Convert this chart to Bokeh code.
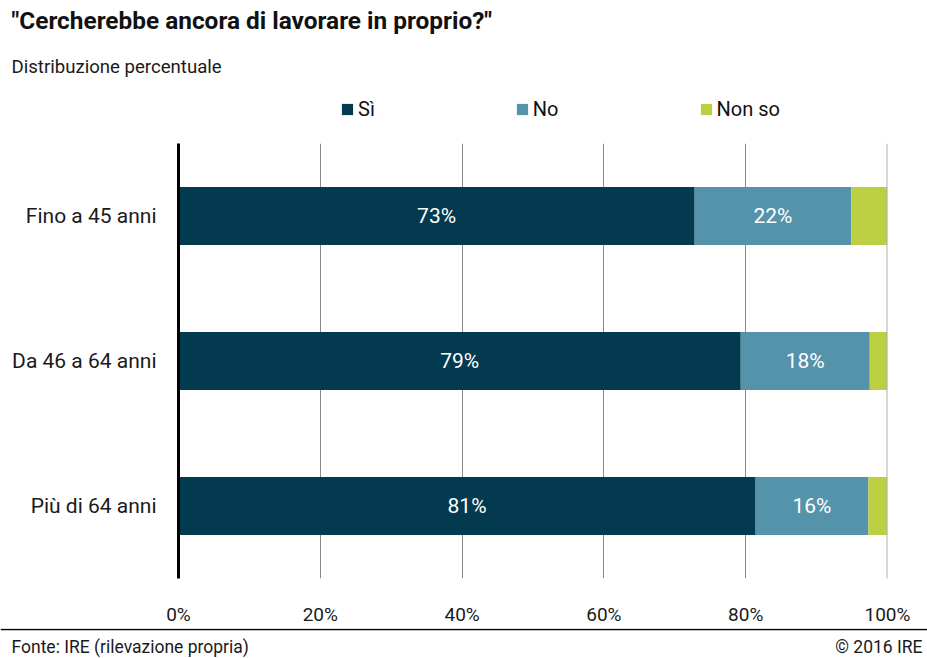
from bokeh.plotting import figure
from bokeh.layouts import column
from bokeh.models import (ColumnDataSource, FactorRange, Range1d, FixedTicker, Label,
                          Legend, LegendItem, Span, CustomJSTickFormatter)
from bokeh.core.properties import value
from bokeh.embed import file_html
from bokeh.resources import INLINE

# ---- data ----
categories = ["Fino a 45 anni", "Da 46 a 64 anni", "Più di 64 anni"]
series_names = ["Sì", "No", "Non so"]
si = [72.8, 79.3, 81.4]
no = [22.1, 18.2, 15.9]
nonso = [5.1, 2.5, 2.7]
x_ticks = [0, 20, 40, 60, 80, 100]
colors = ["#033a4f", "#5593ab", "#bccf43"]

title_text = '"Cercherebbe ancora di lavorare in proprio?"'
subtitle_text = "Distribuzione percentuale"
source_text = "Fonte: IRE (rilevazione propria)"
copyright_text = "© 2016 IRE"

FONT = "Roboto"
W = 927
HEAD_H, MAIN_H, FOOT_H = 143, 485, 30
TXT = "#1a1a1a"


def blank(h):
    f = figure(width=W, height=h, output_backend="svg", toolbar_location=None,
               x_range=Range1d(0, W), y_range=Range1d(h, 0),
               x_axis_type=None, y_axis_type=None,
               min_border=0, min_border_left=0, min_border_right=0,
               min_border_top=0, min_border_bottom=0, frame_align=False)
    f.outline_line_color = None
    f.grid.visible = False
    f.background_fill_color = "white"
    f.border_fill_color = "white"
    return f


# ---- header: title, subtitle, legend ----
head = blank(HEAD_H)
head.add_layout(Label(x=11, y=20, text=title_text, text_font=FONT, text_font_size="24.4px",
                      text_font_style="bold", text_color="#111111", text_baseline="middle"))
head.add_layout(Label(x=11, y=66, text=subtitle_text, text_font=FONT, text_font_size="18.6px",
                      text_color=TXT, text_baseline="middle"))
# zero-size legend proxies (one per series, never visible)
proxies = [head.hbar(y=[0], left=[0], right=[0], height=0, color=c, line_color=None)
           for c in colors]
legend = Legend(items=[LegendItem(label=n, renderers=[r]) for n, r in zip(series_names, proxies)],
                orientation="horizontal", location=(340, 22),
                glyph_width=14, glyph_height=14, label_standoff=4, label_width=0,
                label_height=14, spacing=140, padding=0, margin=0,
                border_line_color=None, background_fill_alpha=0,
                label_text_font=FONT, label_text_font_size="20px",
                label_text_color="#111111")
head.add_layout(legend)

# ---- main chart ----
src = ColumnDataSource(dict(cat=categories, si=si, no=no, nonso=nonso))
p = figure(width=W, height=MAIN_H, output_backend="svg", toolbar_location=None,
           y_range=FactorRange(factors=list(reversed(categories))),
           x_range=Range1d(0, 100),
           min_border_left=178, min_border_right=40,
           min_border_top=0, min_border_bottom=45, frame_align=False)
p.outline_line_color = None
p.background_fill_color = "white"
p.border_fill_color = "white"

rs = p.hbar_stack(["si", "no", "nonso"], y="cat", height=0.4, color=colors,
                  line_color=None, source=src)

lab_x, lab_y, lab_t = [], [], []
for c, a, b in zip(categories, si, no):
    lab_x += [a / 2, a + b / 2]
    lab_y += [c, c]
    lab_t += [f"{round(a)}%", f"{round(b)}%"]
lsrc = ColumnDataSource(dict(x=lab_x, y=lab_y, t=lab_t))
p.text(x="x", y="y", text="t", source=lsrc, text_color="white",
       text_font=value(FONT), text_font_size="21px",
       text_align="center", text_baseline="middle")

p.xaxis.ticker = FixedTicker(ticks=x_ticks)
p.xaxis.formatter = CustomJSTickFormatter(code="return tick + '%';")
p.xaxis.axis_line_color = None
p.xaxis.major_tick_line_color = None
p.xaxis.minor_tick_line_color = None
p.xaxis.major_label_standoff = 18
p.xaxis.major_label_text_font = FONT
p.xaxis.major_label_text_font_size = "19px"
p.xaxis.major_label_text_color = TXT

p.yaxis.axis_line_color = "black"
p.yaxis.axis_line_width = 3
p.yaxis.major_tick_line_color = None
p.yaxis.minor_tick_line_color = None
p.yaxis.major_label_standoff = 16
p.yaxis.major_label_text_font = FONT
p.yaxis.major_label_text_font_size = "21px"
p.yaxis.major_label_text_color = TXT

p.ygrid.grid_line_color = None
p.xgrid.ticker = FixedTicker(ticks=x_ticks[1:-1])
p.xgrid.grid_line_color = "#8a8a8a"
p.xgrid.grid_line_width = 1
p.add_layout(Span(location=x_ticks[-1], dimension="height", line_color="#b0b0b0", line_width=2))

# ---- footer ----
foot = blank(FOOT_H)
foot.add_layout(Span(location=1, dimension="width", line_color="black", line_width=1.5))
foot.add_layout(Label(x=11, y=18, text=source_text, text_font=FONT, text_font_size="17.5px",
                      text_color=TXT, text_baseline="middle"))
foot.add_layout(Label(x=W - 5, y=18, text=copyright_text, text_font=FONT, text_font_size="17.5px",
                      text_color=TXT, text_baseline="middle", text_align="right"))

layout = column(head, p, foot, spacing=0)
open("out.html", "w").write(file_html(layout, INLINE))
